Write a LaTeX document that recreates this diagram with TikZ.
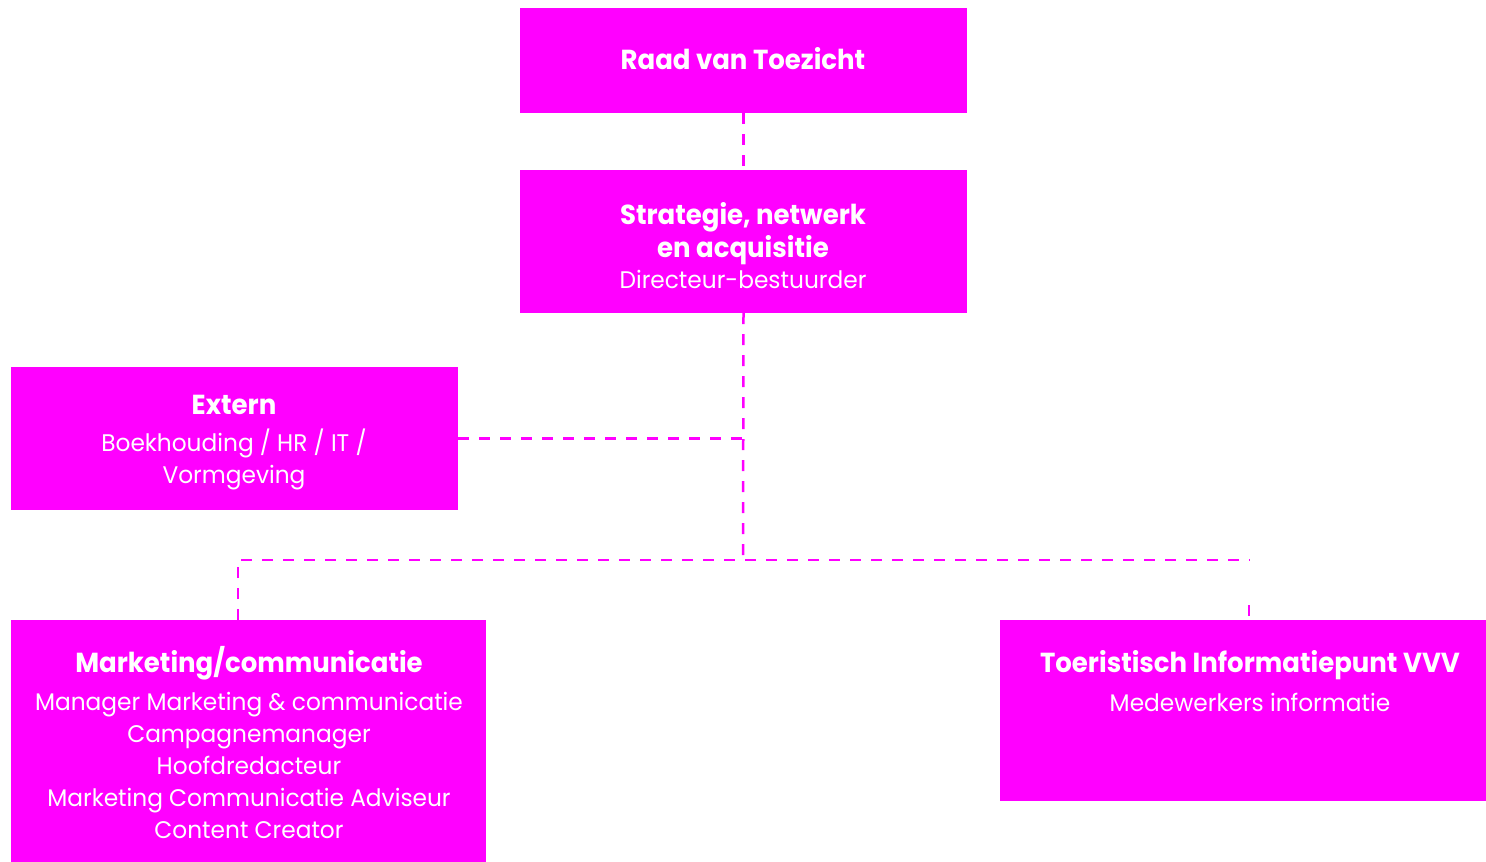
\documentclass[tikz,border=0pt]{standalone}
\usepackage{fontspec}
\setmainfont{Poppins}[FakeStretch=0.97]
\newfontfamily\bfam{Poppins}[FakeStretch=0.945]
\definecolor{mag}{HTML}{FF00FF}
\newcommand\fl{\rule{0pt}{20pt}}
\newcommand\ttl[1]{{\bfam\fontsize{27.5}{31}\selectfont\bfseries #1}}
\begin{document}
\begin{tikzpicture}[x=1pt,y=-1pt,
  box/.style={fill=mag,draw=none,inner sep=0pt,outer sep=0pt,anchor=north west},
  txt/.style={text=white,align=center,inner sep=0pt,anchor=north,font=\fontsize{24}{32}\selectfont},
  conn/.style={draw=mag,line width=2.5pt,dash pattern=on 11pt off 10pt}]
\useasboundingbox (0,0) rectangle (1486,862);
% boxes
\node[box,minimum width=447pt,minimum height=105pt] (raad) at (520,8) {};
\node[box,minimum width=447pt,minimum height=143pt] (strat) at (520,170) {};
\node[box,minimum width=447pt,minimum height=143pt] (extern) at (11,367) {};
\node[box,minimum width=475pt,minimum height=242pt] (mkt) at (11,620) {};
\node[box,minimum width=486pt,minimum height=181pt] (vvv) at (1000,620) {};
% texts
\node[txt] (raadT) at (743,47) {\fl\ttl{Raad van Toezicht}};
\node[txt] (stratT) at (743,202) {\fl\ttl{Strategie, netwerk}\\[1pt]\ttl{en acquisitie}\\[-1pt]Directeur-bestuurder};
\node[txt] (externT) at (234,394) {\fl\ttl{Extern}\\[5pt]Boekhouding / HR / IT /\\Vormgeving};
\node[txt] (mktT) at (249,646) {\fl\ttl{Marketing/communicatie}\\[6pt]Manager Marketing \& communicatie\\Campagnemanager\\Hoofdredacteur\\Marketing Communicatie Adviseur\\Content Creator};
\node[txt] (vvvT) at (1250,650) {\fl\ttl{Toeristisch Informatiepunt VVV}\\[7pt]Medewerkers informatie};
% connectors
\coordinate (hub) at (743,560);
\coordinate (mktc) at (238,560);
\coordinate (vvvc) at (1250,560);
\coordinate (vvvd) at (1249,605);
\draw[conn] (raad.south) -- (strat.north);
\draw[conn] (strat.south) -- (hub);
\draw[conn] (extern.east) -- (extern.east -| strat.south);
\draw[conn] (mktc |- mkt.north) -- (mktc) -- (vvvc);
\draw[conn] (vvvd) -- (vvvd |- vvv.north);
\end{tikzpicture}
\end{document}
